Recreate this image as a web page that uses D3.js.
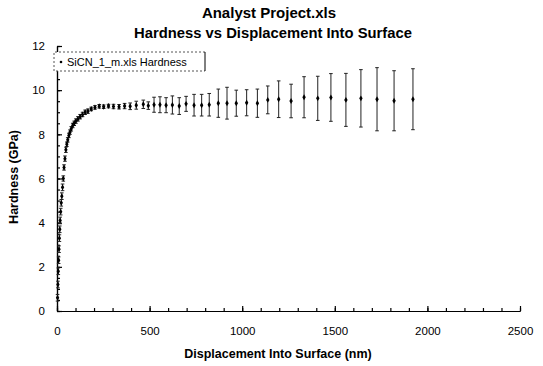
<!DOCTYPE html>
<html lang="en">
<head>
<meta charset="UTF-8">
<title>Hardness vs Displacement Into Surface</title>
<style>
  body { margin: 0; background: #fff; }
  svg { font-family: "Liberation Sans", Arial, sans-serif; }
  .axis path, .axis line { stroke: #000; stroke-width: 1.2; }
  .axis text { font-size: 11.5px; fill: #000; }
  .err { stroke: #222; stroke-width: 1; }
</style>
</head>
<body>
<svg id="chart" width="543" height="366"></svg>
<script src="https://d3js.org/d3.v7.min.js"></script>
<script>
// displacement (nm), hardness (GPa) and error (+/- GPa)
const disp = [3, 5, 7, 9, 11, 13, 15, 17, 20, 23, 26, 30, 34, 38, 43, 48, 53, 58, 64, 70,
  77, 85, 93, 102, 113, 125, 138, 152, 167, 185, 205, 228, 252, 278, 305, 335, 365, 395, 428,
  466, 493, 524, 556, 589, 623, 660, 697, 740, 781, 822, 871, 918, 968, 1024, 1082, 1138,
  1197, 1264, 1334, 1408, 1479, 1560, 1641, 1728, 1820, 1922];
const hardness = [0.6, 1.2, 1.8, 2.3, 2.8, 3.3, 3.7, 4.1, 4.5, 4.9, 5.2, 5.6, 6.0, 6.5, 6.9, 7.3, 7.55, 7.75, 7.95, 8.1,
  8.25, 8.4, 8.5, 8.6, 8.7, 8.8, 8.9, 9.0, 9.05, 9.15, 9.22, 9.27, 9.25, 9.28, 9.26, 9.25, 9.28, 9.27, 9.32,
  9.36, 9.30, 9.34, 9.34, 9.32, 9.33, 9.28, 9.38, 9.32, 9.32, 9.34, 9.41, 9.41, 9.41, 9.43, 9.41, 9.56,
  9.59, 9.51, 9.68, 9.63, 9.67, 9.56, 9.63, 9.59, 9.52, 9.59];
const errs = [0.15, 0.15, 0.15, 0.15, 0.15, 0.15, 0.15, 0.15, 0.15, 0.15, 0.15, 0.15, 0.12, 0.12, 0.12, 0.12, 0.1, 0.1, 0.1, 0.1,
  0.1, 0.1, 0.1, 0.1, 0.1, 0.1, 0.1, 0.1, 0.1, 0.08, 0.08, 0.08, 0.08, 0.08, 0.1, 0.1, 0.12, 0.15, 0.18,
  0.19, 0.17, 0.34, 0.36, 0.34, 0.41, 0.38, 0.34, 0.49, 0.49, 0.51, 0.64, 0.72, 0.59, 0.59, 0.64, 0.63,
  0.83, 0.76, 0.93, 1.0, 1.08, 1.20, 1.30, 1.43, 1.36, 1.38];

const xMajor = [0, 500, 1000, 1500, 2000, 2500];
const yMajor = [0, 2, 4, 6, 8, 10, 12];

const svg = d3.select("#chart");
const x = d3.scaleLinear().domain([0, 2500]).range([57, 520]);
const y = d3.scaleLinear().domain([0, 12]).range([311, 46]);

// minor ticks
svg.append("g").attr("class", "axis")
  .attr("transform", "translate(0,311)")
  .call(d3.axisBottom(x).tickValues(d3.range(0, 2501, 100)).tickSizeInner(-3).tickSizeOuter(0).tickFormat(""));
svg.append("g").attr("class", "axis")
  .attr("transform", "translate(57,0)")
  .call(d3.axisLeft(y).tickValues(d3.range(0, 12.01, 0.5)).tickSizeInner(-3).tickSizeOuter(0).tickFormat(""));

// major ticks with labels
svg.append("g").attr("class", "axis")
  .attr("transform", "translate(0,311)")
  .call(d3.axisBottom(x).tickValues(xMajor).tickSizeInner(-5).tickSizeOuter(0).tickPadding(16).tickFormat(d3.format("d")));
svg.append("g").attr("class", "axis")
  .attr("transform", "translate(57,0)")
  .call(d3.axisLeft(y).tickValues(yMajor).tickSizeInner(-5).tickSizeOuter(0).tickPadding(12).tickFormat(d3.format("d")));

// error bars
const pts = disp.map((d, i) => ({ d: d, h: hardness[i], e: errs[i] }));
const eb = svg.append("g");
pts.forEach(p => {
  const cx = x(p.d);
  eb.append("line").attr("class", "err")
    .attr("x1", cx).attr("x2", cx).attr("y1", y(p.h - p.e)).attr("y2", y(p.h + p.e));
  [p.h - p.e, p.h + p.e].forEach(v => {
    eb.append("line").attr("class", "err")
      .attr("x1", cx - 1.8).attr("x2", cx + 1.8).attr("y1", y(v)).attr("y2", y(v));
  });
});

// points
svg.append("g").selectAll("path").data(pts).join("path")
  .attr("transform", p => `translate(${x(p.d)},${y(p.h)})`)
  .attr("d", d3.symbol(d3.symbolDiamond, 10))
  .attr("fill", "#000");

// legend
const lg = svg.append("g");
lg.append("path")
  .attr("d", "M205,52 H54 V71 H205")
  .attr("fill", "#fff").attr("stroke", "#555").attr("stroke-dasharray", "2,2");
lg.append("line").attr("x1", 205).attr("x2", 205).attr("y1", 52).attr("y2", 71).attr("stroke", "#000");
lg.append("circle").attr("cx", 61).attr("cy", 62).attr("r", 1.3).attr("fill", "#000");
lg.append("text").attr("x", 67).attr("y", 66).attr("font-size", 11).text("SiCN_1_m.xls Hardness");

// titles
svg.append("text").attr("x", 269).attr("y", 18).attr("text-anchor", "middle")
  .attr("font-size", 15).attr("font-weight", "bold").text("Analyst Project.xls");
svg.append("text").attr("x", 273).attr("y", 38).attr("text-anchor", "middle")
  .attr("font-size", 14.8).attr("font-weight", "bold").text("Hardness vs Displacement Into Surface");
svg.append("text").attr("x", 278).attr("y", 358).attr("text-anchor", "middle")
  .attr("font-size", 12.5).attr("font-weight", "bold").text("Displacement Into Surface (nm)");
svg.append("text").attr("transform", "translate(18,177) rotate(-90)").attr("text-anchor", "middle")
  .attr("font-size", 12.5).attr("font-weight", "bold").text("Hardness (GPa)");
</script>
</body>
</html>
